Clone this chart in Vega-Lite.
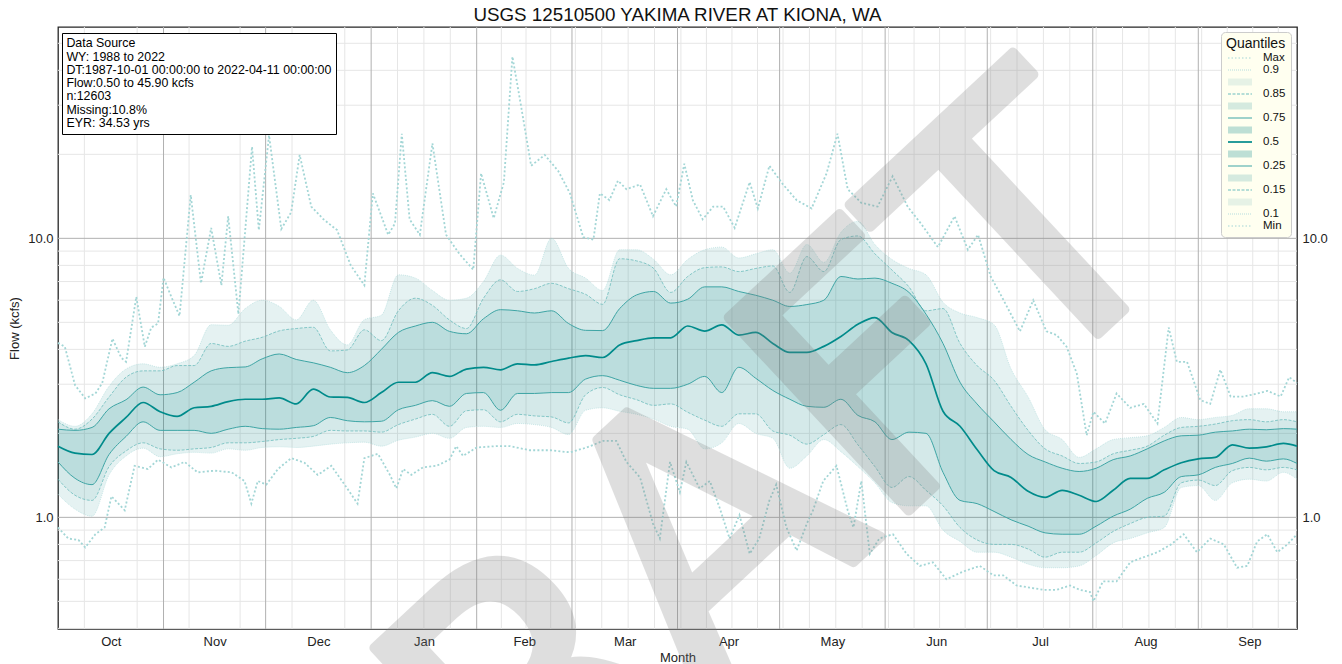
{
  "$schema": "https://vega.github.io/schema/vega-lite/v6.json",
  "width": 1239,
  "height": 602,
  "autosize": {"type": "none"},
  "padding": {"left": 58, "top": 27, "right": 45, "bottom": 35},
  "background": "white",
  "config": {
    "font": "Liberation Sans",
    "view": {"stroke": "#262626", "strokeWidth": 1.3},
    "axis": {"labelFont": "Liberation Sans", "titleFont": "Liberation Sans"}
  },
  "title": {"text": "USGS 12510500 YAKIMA RIVER AT KIONA, WA", "fontSize": 18.8, "font": "Liberation Sans", "fontWeight": "normal", "color": "#111111", "anchor": "middle", "offset": 6, "dy": 4},
  "datasets": {
    "hmin": [{"v":0.4},{"v":0.5},{"v":0.6},{"v":0.7},{"v":0.8},{"v":0.9},{"v":2},{"v":3},{"v":4},{"v":5},{"v":6},{"v":7},{"v":8},{"v":9},{"v":20},{"v":30},{"v":40},{"v":50}],
    "hmaj": [{"v":1},{"v":10}],
    "vmin": [{"d":7.75},{"d":23.25},{"d":38.5},{"d":53.5},{"d":68.75},{"d":84.25},{"d":99.75},{"d":107.5},{"d":115.25},{"d":130.25},{"d":137.5},{"d":144.75},{"d":152},{"d":159.75},{"d":167.5},{"d":175.25},{"d":183},{"d":190.5},{"d":198},{"d":205.5},{"d":213},{"d":220.75},{"d":228.5},{"d":236.25},{"d":244},{"d":251.5},{"d":259},{"d":266.5},{"d":274},{"d":281.75},{"d":289.5},{"d":297.25},{"d":305},{"d":312.75},{"d":320.5},{"d":328.25},{"d":336},{"d":343.5},{"d":351},{"d":358.5}],
    "vmaj": [{"d":31},{"d":61},{"d":92},{"d":123},{"d":151},{"d":182},{"d":212},{"d":243},{"d":273},{"d":304},{"d":335}],
    "q": [
      {"d":0,"q10":1.21,"q15":1.37,"q25":1.58,"q50":1.80,"q75":2.07,"q85":2.20,"q90":2.24},
      {"d":5,"q10":1.07,"q15":1.20,"q25":1.38,"q50":1.70,"q75":2.05,"q85":2.07,"q90":2.12},
      {"d":10,"q10":1.01,"q15":1.15,"q25":1.31,"q50":1.68,"q75":2.10,"q85":2.25,"q90":2.35},
      {"d":15,"q10":1.42,"q15":1.52,"q25":1.68,"q50":2.00,"q75":2.45,"q85":2.70,"q90":2.95},
      {"d":20,"q10":1.66,"q15":1.73,"q25":1.95,"q50":2.28,"q75":2.64,"q85":3.18,"q90":3.40},
      {"d":25,"q10":1.77,"q15":1.85,"q25":2.20,"q50":2.58,"q75":2.93,"q85":3.35,"q90":3.55},
      {"d":30,"q10":1.65,"q15":1.76,"q25":2.05,"q50":2.39,"q75":2.75,"q85":3.35,"q90":3.45},
      {"d":35,"q10":1.69,"q15":1.74,"q25":2.05,"q50":2.30,"q75":2.80,"q85":3.50,"q90":3.55},
      {"d":40,"q10":1.71,"q15":1.76,"q25":2.05,"q50":2.47,"q75":3.05,"q85":3.50,"q90":3.80},
      {"d":45,"q10":1.70,"q15":1.78,"q25":2.00,"q50":2.50,"q75":3.35,"q85":4.20,"q90":4.90},
      {"d":50,"q10":1.76,"q15":1.85,"q25":2.07,"q50":2.60,"q75":3.44,"q85":4.10,"q90":4.88},
      {"d":55,"q10":1.74,"q15":1.85,"q25":2.12,"q50":2.65,"q75":3.46,"q85":4.28,"q90":5.60},
      {"d":60,"q10":1.78,"q15":1.87,"q25":2.08,"q50":2.65,"q75":3.70,"q85":4.42,"q90":6.00},
      {"d":65,"q10":1.79,"q15":1.90,"q25":2.07,"q50":2.68,"q75":3.85,"q85":4.66,"q90":5.70},
      {"d":70,"q10":1.78,"q15":1.92,"q25":2.10,"q50":2.55,"q75":3.68,"q85":4.75,"q90":5.10},
      {"d":75,"q10":1.80,"q15":1.95,"q25":2.13,"q50":2.88,"q75":3.58,"q85":4.80,"q90":6.00},
      {"d":80,"q10":1.83,"q15":2.05,"q25":2.28,"q50":2.70,"q75":3.45,"q85":3.95,"q90":4.70},
      {"d":85,"q10":1.85,"q15":2.04,"q25":2.22,"q50":2.69,"q75":3.30,"q85":3.98,"q90":4.15},
      {"d":90,"q10":1.86,"q15":2.04,"q25":2.20,"q50":2.58,"q75":3.50,"q85":4.70,"q90":5.11},
      {"d":95,"q10":1.80,"q15":2.02,"q25":2.21,"q50":2.80,"q75":4.00,"q85":4.30,"q90":5.30},
      {"d":100,"q10":1.89,"q15":2.15,"q25":2.43,"q50":3.05,"q75":4.60,"q85":5.50,"q90":7.40},
      {"d":105,"q10":1.94,"q15":2.25,"q25":2.52,"q50":3.05,"q75":4.85,"q85":6.10,"q90":7.20},
      {"d":110,"q10":2.00,"q15":2.34,"q25":2.62,"q50":3.30,"q75":5.00,"q85":5.75,"q90":6.50},
      {"d":115,"q10":1.92,"q15":2.12,"q25":2.50,"q50":3.20,"q75":4.64,"q85":5.10,"q90":6.00},
      {"d":120,"q10":2.10,"q15":2.41,"q25":2.78,"q50":3.40,"q75":4.55,"q85":4.75,"q90":6.10},
      {"d":125,"q10":2.12,"q15":2.43,"q25":2.80,"q50":3.45,"q75":5.15,"q85":6.10,"q90":7.00},
      {"d":130,"q10":2.10,"q15":2.20,"q25":2.42,"q50":3.38,"q75":5.55,"q85":7.10,"q90":8.70},
      {"d":135,"q10":2.17,"q15":2.34,"q25":2.78,"q50":3.55,"q75":5.50,"q85":6.45,"q90":7.80},
      {"d":140,"q10":2.15,"q15":2.31,"q25":2.78,"q50":3.52,"q75":5.40,"q85":6.60,"q90":7.38},
      {"d":145,"q10":2.10,"q15":2.29,"q25":2.80,"q50":3.62,"q75":5.50,"q85":6.90,"q90":10.0},
      {"d":150,"q10":1.98,"q15":2.18,"q25":2.80,"q50":3.72,"q75":4.95,"q85":6.60,"q90":7.80},
      {"d":155,"q10":2.42,"q15":2.75,"q25":3.13,"q50":3.80,"q75":4.68,"q85":6.30,"q90":7.20},
      {"d":160,"q10":2.47,"q15":2.92,"q25":3.22,"q50":3.74,"q75":4.67,"q85":5.80,"q90":6.50},
      {"d":165,"q10":2.40,"q15":2.75,"q25":3.10,"q50":4.15,"q75":5.60,"q85":8.45,"q90":9.10},
      {"d":170,"q10":2.34,"q15":2.64,"q25":2.97,"q50":4.30,"q75":6.27,"q85":8.30,"q90":9.10},
      {"d":175,"q10":2.25,"q15":2.52,"q25":2.90,"q50":4.40,"q75":6.45,"q85":7.80,"q90":8.40},
      {"d":180,"q10":2.12,"q15":2.55,"q25":2.90,"q50":4.40,"q75":5.86,"q85":6.40,"q90":7.40},
      {"d":185,"q10":2.07,"q15":2.38,"q25":3.00,"q50":4.85,"q75":6.05,"q85":7.30,"q90":8.40},
      {"d":190,"q10":1.76,"q15":2.23,"q25":3.20,"q50":4.65,"q75":6.70,"q85":7.85,"q90":9.10},
      {"d":195,"q10":1.85,"q15":2.12,"q25":2.80,"q50":4.90,"q75":6.70,"q85":7.90,"q90":9.30},
      {"d":200,"q10":2.17,"q15":2.35,"q25":3.45,"q50":4.50,"q75":6.45,"q85":7.60,"q90":8.50},
      {"d":205,"q10":2.00,"q15":2.35,"q25":3.15,"q50":4.60,"q75":6.25,"q85":7.80,"q90":8.80},
      {"d":210,"q10":1.92,"q15":2.04,"q25":2.85,"q50":4.20,"q75":6.00,"q85":7.96,"q90":9.10},
      {"d":215,"q10":1.50,"q15":1.97,"q25":2.65,"q50":3.90,"q75":5.70,"q85":6.40,"q90":7.50},
      {"d":220,"q10":1.66,"q15":1.83,"q25":2.50,"q50":3.90,"q75":5.79,"q85":8.60,"q90":9.50},
      {"d":225,"q10":1.90,"q15":1.98,"q25":2.48,"q50":4.10,"q75":6.00,"q85":7.60,"q90":8.20},
      {"d":230,"q10":1.72,"q15":2.15,"q25":2.65,"q50":4.45,"q75":7.30,"q85":9.90,"q90":10.5},
      {"d":235,"q10":1.52,"q15":1.82,"q25":2.32,"q50":4.92,"q75":7.15,"q85":10.2,"q90":11.5},
      {"d":240,"q10":1.33,"q15":1.52,"q25":2.20,"q50":5.20,"q75":7.20,"q85":8.80,"q90":9.50},
      {"d":245,"q10":1.13,"q15":1.28,"q25":1.90,"q50":4.60,"q75":6.90,"q85":7.70,"q90":8.40},
      {"d":250,"q10":1.10,"q15":1.40,"q25":2.02,"q50":4.30,"q75":6.40,"q85":6.70,"q90":7.80},
      {"d":255,"q10":1.10,"q15":1.25,"q25":2.00,"q50":3.55,"q75":5.35,"q85":5.50,"q90":7.40},
      {"d":260,"q10":0.90,"q15":1.10,"q25":1.45,"q50":2.40,"q75":4.20,"q85":5.60,"q90":5.90},
      {"d":265,"q10":0.82,"q15":0.92,"q25":1.15,"q50":2.12,"q75":3.05,"q85":4.20,"q90":5.40},
      {"d":270,"q10":0.75,"q15":0.83,"q25":1.12,"q50":1.75,"q75":2.55,"q85":3.50,"q90":5.20},
      {"d":275,"q10":0.75,"q15":0.80,"q25":1.05,"q50":1.47,"q75":2.20,"q85":3.10,"q90":4.90},
      {"d":280,"q10":0.72,"q15":0.80,"q25":0.98,"q50":1.39,"q75":1.90,"q85":2.50,"q90":3.40},
      {"d":285,"q10":0.68,"q15":0.77,"q25":0.93,"q50":1.24,"q75":1.68,"q85":2.05,"q90":2.70},
      {"d":290,"q10":0.66,"q15":0.72,"q25":0.88,"q50":1.18,"q75":1.58,"q85":1.76,"q90":2.06},
      {"d":295,"q10":0.66,"q15":0.75,"q25":0.87,"q50":1.25,"q75":1.50,"q85":1.66,"q90":1.90},
      {"d":300,"q10":0.67,"q15":0.75,"q25":0.87,"q50":1.20,"q75":1.46,"q85":1.56,"q90":1.64},
      {"d":305,"q10":0.73,"q15":0.81,"q25":0.93,"q50":1.14,"q75":1.50,"q85":1.58,"q90":1.76},
      {"d":310,"q10":0.81,"q15":0.89,"q25":1.01,"q50":1.25,"q75":1.61,"q85":1.69,"q90":1.90},
      {"d":315,"q10":0.84,"q15":0.95,"q25":1.07,"q50":1.38,"q75":1.66,"q85":1.74,"q90":1.93},
      {"d":320,"q10":0.88,"q15":1.00,"q25":1.17,"q50":1.38,"q75":1.76,"q85":1.80,"q90":1.96},
      {"d":325,"q10":0.92,"q15":1.01,"q25":1.23,"q50":1.48,"q75":1.88,"q85":1.97,"q90":2.10},
      {"d":330,"q10":1.28,"q15":1.33,"q25":1.40,"q50":1.57,"q75":1.96,"q85":2.10,"q90":2.28},
      {"d":335,"q10":1.30,"q15":1.36,"q25":1.42,"q50":1.62,"q75":1.97,"q85":2.12,"q90":2.24},
      {"d":340,"q10":1.15,"q15":1.30,"q25":1.51,"q50":1.64,"q75":2.02,"q85":2.16,"q90":2.28},
      {"d":345,"q10":1.33,"q15":1.47,"q25":1.56,"q50":1.82,"q75":2.04,"q85":2.22,"q90":2.32},
      {"d":350,"q10":1.37,"q15":1.51,"q25":1.63,"q50":1.77,"q75":2.07,"q85":2.24,"q90":2.45},
      {"d":355,"q10":1.35,"q15":1.48,"q25":1.59,"q50":1.79,"q75":2.06,"q85":2.20,"q90":2.45},
      {"d":360,"q10":1.45,"q15":1.51,"q25":1.62,"q50":1.84,"q75":2.08,"q85":2.24,"q90":2.39},
      {"d":364,"q10":1.37,"q15":1.48,"q25":1.56,"q50":1.80,"q75":2.07,"q85":2.20,"q90":2.39}
    ],
    "mx": [
      {"d":0,"v":4.22},{"d":2,"v":4.09},{"d":5,"v":2.98},{"d":8,"v":2.67},{"d":11,"v":2.78},{"d":13,"v":3.03},{"d":16,"v":4.37},{"d":18.6,"v":3.73},{"d":20,"v":3.61},{"d":23,"v":6.17},{"d":25.5,"v":4.09},{"d":27.4,"v":4.79},{"d":29.4,"v":4.95},{"d":31,"v":7.23},{"d":33.3,"v":6.17},{"d":35.7,"v":5.27},{"d":39,"v":14.3},{"d":42,"v":6.9},{"d":45,"v":10.9},{"d":48,"v":6.79},{"d":50,"v":12.0},{"d":53,"v":5.35},{"d":57,"v":21.3},{"d":59,"v":10.7},{"d":62,"v":23.4},{"d":65.6,"v":10.8},{"d":68.5,"v":12.4},{"d":71,"v":19.9},{"d":74.4,"v":13.0},{"d":78,"v":11.7},{"d":82,"v":10.7},{"d":86,"v":8.0},{"d":90,"v":6.79},{"d":92.5,"v":14.5},{"d":95,"v":12.0},{"d":97,"v":10.3},{"d":99,"v":11.3},{"d":101,"v":23.7},{"d":103.3,"v":11.7},{"d":106.3,"v":10.3},{"d":110,"v":21.9},{"d":114,"v":10.3},{"d":118,"v":8.77},{"d":122,"v":7.72},{"d":124.3,"v":17.1},{"d":128,"v":11.8},{"d":131,"v":15.9},{"d":133.5,"v":44.8},{"d":136,"v":30.0},{"d":139,"v":18.2},{"d":143,"v":19.9},{"d":147,"v":17.4},{"d":150.4,"v":14.5},{"d":154.3,"v":10.1},{"d":157.3,"v":9.9},{"d":159.2,"v":14.5},{"d":162,"v":13.7},{"d":164.5,"v":16.1},{"d":167,"v":15.0},{"d":171,"v":15.6},{"d":174.8,"v":12.0},{"d":178.7,"v":15.0},{"d":181.6,"v":13.0},{"d":184,"v":18.5},{"d":186.5,"v":13.7},{"d":189.4,"v":11.7},{"d":192.5,"v":13.0},{"d":195.4,"v":13.0},{"d":198.8,"v":10.9},{"d":203.2,"v":15.9},{"d":205.6,"v":12.8},{"d":209,"v":18.2},{"d":213,"v":15.6},{"d":217,"v":13.7},{"d":221.4,"v":12.8},{"d":225.8,"v":17.1},{"d":229,"v":23.7},{"d":232,"v":15.0},{"d":236,"v":13.4},{"d":240.8,"v":13.0},{"d":245.2,"v":16.7},{"d":249.6,"v":13.0},{"d":253.5,"v":11.3},{"d":258.5,"v":9.3},{"d":263.4,"v":12.0},{"d":267.3,"v":9.1},{"d":270.3,"v":10.3},{"d":274,"v":7.3},{"d":277.5,"v":6.1},{"d":282.6,"v":4.64},{"d":286.5,"v":6.0},{"d":290.4,"v":4.64},{"d":293.4,"v":4.5},{"d":296.3,"v":4.09},{"d":299.3,"v":3.28},{"d":302.2,"v":1.97},{"d":304.2,"v":2.39},{"d":307.6,"v":2.17},{"d":311,"v":2.78},{"d":315,"v":2.47},{"d":319,"v":2.55},{"d":323,"v":2.17},{"d":326.3,"v":4.79},{"d":328.7,"v":3.61},{"d":331.7,"v":3.61},{"d":335.6,"v":2.63},{"d":338.5,"v":2.55},{"d":341.5,"v":3.38},{"d":344.5,"v":2.71},{"d":348.4,"v":2.71},{"d":352.3,"v":2.78},{"d":355.3,"v":2.84},{"d":359.2,"v":2.71},{"d":361.7,"v":3.18},{"d":364,"v":3.03}
    ],
    "mn": [
      {"d":0,"v":0.92},{"d":3,"v":0.84},{"d":6,"v":0.83},{"d":8,"v":0.78},{"d":11,"v":0.87},{"d":13.7,"v":0.92},{"d":15.7,"v":1.19},{"d":19.6,"v":1.06},{"d":22.5,"v":1.53},{"d":26.4,"v":1.49},{"d":29.4,"v":1.61},{"d":33.3,"v":1.51},{"d":37.2,"v":1.58},{"d":41,"v":1.45},{"d":46,"v":1.47},{"d":51,"v":1.45},{"d":54.8,"v":1.35},{"d":56.8,"v":1.12},{"d":58.7,"v":1.35},{"d":61.2,"v":1.31},{"d":64.6,"v":1.49},{"d":68.5,"v":1.63},{"d":72.4,"v":1.57},{"d":76.3,"v":1.42},{"d":80.3,"v":1.53},{"d":84.2,"v":1.31},{"d":88,"v":1.12},{"d":90,"v":1.63},{"d":94,"v":1.69},{"d":97.5,"v":1.42},{"d":99.4,"v":1.27},{"d":101.4,"v":1.49},{"d":103.8,"v":1.42},{"d":107.2,"v":1.51},{"d":111.2,"v":1.53},{"d":115,"v":1.61},{"d":117,"v":1.80},{"d":119,"v":1.66},{"d":123,"v":1.78},{"d":128.8,"v":1.80},{"d":132.8,"v":1.80},{"d":138.6,"v":1.74},{"d":144.5,"v":1.74},{"d":150.4,"v":1.71},{"d":155.3,"v":1.78},{"d":160.2,"v":1.88},{"d":164,"v":1.88},{"d":167,"v":1.58},{"d":171,"v":1.39},{"d":174.8,"v":0.95},{"d":176.8,"v":0.84},{"d":179.8,"v":1.58},{"d":182.7,"v":1.23},{"d":184.6,"v":1.58},{"d":188.5,"v":1.27},{"d":191.5,"v":1.35},{"d":194.4,"v":1.08},{"d":197.3,"v":0.84},{"d":200.2,"v":1.02},{"d":203.2,"v":0.74},{"d":206,"v":0.84},{"d":209,"v":1.15},{"d":211,"v":1.31},{"d":214,"v":0.92},{"d":217,"v":0.76},{"d":220,"v":0.95},{"d":221.8,"v":1.06},{"d":224.8,"v":1.35},{"d":228.7,"v":1.53},{"d":232,"v":1.06},{"d":233.7,"v":0.92},{"d":236,"v":1.35},{"d":238.5,"v":0.74},{"d":241.3,"v":0.84},{"d":245.3,"v":0.87},{"d":249.3,"v":0.74},{"d":253.2,"v":0.67},{"d":257,"v":0.69},{"d":261,"v":0.60},{"d":266,"v":0.64},{"d":270.8,"v":0.67},{"d":274.8,"v":0.62},{"d":277.7,"v":0.62},{"d":281.6,"v":0.57},{"d":285.5,"v":0.56},{"d":289.5,"v":0.55},{"d":293.4,"v":0.55},{"d":297.3,"v":0.57},{"d":300.2,"v":0.55},{"d":303.2,"v":0.54},{"d":304.2,"v":0.50},{"d":307,"v":0.59},{"d":311,"v":0.59},{"d":315,"v":0.69},{"d":319,"v":0.72},{"d":323,"v":0.75},{"d":327,"v":0.80},{"d":330.7,"v":0.87},{"d":334.6,"v":0.75},{"d":338.5,"v":0.84},{"d":342.5,"v":0.80},{"d":346.4,"v":0.66},{"d":349.4,"v":0.67},{"d":352.3,"v":0.82},{"d":355.3,"v":0.87},{"d":358.2,"v":0.75},{"d":361.2,"v":0.80},{"d":364,"v":0.87}
    ]
  },
  "layer": [
    {
      "data": {"name": "hmin"},
      "mark": {"type": "rule", "stroke": "#e6e6e6", "strokeWidth": 1},
      "encoding": {"y": {"field": "v", "type": "quantitative", "scale": {"type": "log", "domain": [0.398, 57.2], "nice": false}, "axis": null}}
    },
    {
      "data": {"name": "vmin"},
      "mark": {"type": "rule", "stroke": "#e6e6e6", "strokeWidth": 1},
      "encoding": {"x": {"field": "d", "type": "quantitative", "scale": {"domain": [0, 364], "nice": false, "zero": false},
        "axis": {"title": "Month", "values": [15.5, 46, 76.5, 107.5, 137, 166.5, 197, 227.5, 258, 288.5, 319.5, 350], "labelExpr": "['Oct','Nov','Dec','Jan','Feb','Mar','Apr','May','Jun','Jul','Aug','Sep'][floor(datum.value/30.5)]", "grid": false, "ticks": false, "domain": false, "labelFlush": false, "labelOverlap": false, "labelFontSize": 13, "labelPadding": 6, "labelColor": "#222222", "titleFontSize": 13, "titleFontWeight": "normal", "titleColor": "#222222", "titlePadding": 3}}}
    },
    {
      "data": {"name": "hmaj"},
      "mark": {"type": "rule", "stroke": "#b0b0b0", "strokeWidth": 1},
      "encoding": {"y": {"field": "v", "type": "quantitative", "scale": {"type": "log", "domain": [0.398, 57.2], "nice": false}, "axis": null}}
    },
    {
      "data": {"name": "vmaj"},
      "mark": {"type": "rule", "stroke": "#b0b0b0", "strokeWidth": 1},
      "encoding": {"x": {"field": "d", "type": "quantitative", "scale": {"domain": [0, 364], "nice": false, "zero": false}}}
    },
    {
      "data": {"name": "q"},
      "mark": {"type": "area", "color": "#008080", "opacity": 0.1, "interpolate": "monotone"},
      "encoding": {
        "x": {"field": "d", "type": "quantitative", "scale": {"domain": [0, 364], "nice": false, "zero": false}},
        "y": {"field": "q10", "type": "quantitative", "scale": {"type": "log", "domain": [0.398, 57.2], "nice": false},
          "axis": {"title": "Flow (kcfs)", "orient": "left", "values": [1, 10], "format": ".1f", "grid": false, "ticks": false, "domain": false, "labelFontSize": 13, "labelPadding": 5, "labelColor": "#222222", "titleFontSize": 13, "titleFontWeight": "normal", "titleColor": "#222222", "titlePadding": 6}},
        "y2": {"field": "q90"}
      }
    },
    {
      "data": {"name": "q"},
      "mark": {"type": "area", "color": "#008080", "opacity": 0.07, "interpolate": "monotone"},
      "encoding": {
        "x": {"field": "d", "type": "quantitative", "scale": {"domain": [0, 364], "nice": false, "zero": false}},
        "y": {"field": "q15", "type": "quantitative", "scale": {"type": "log", "domain": [0.398, 57.2], "nice": false}, "axis": null},
        "y2": {"field": "q85"}
      }
    },
    {
      "data": {"name": "q"},
      "mark": {"type": "area", "color": "#008080", "opacity": 0.115, "interpolate": "monotone"},
      "encoding": {
        "x": {"field": "d", "type": "quantitative", "scale": {"domain": [0, 364], "nice": false, "zero": false}},
        "y": {"field": "q25", "type": "quantitative", "scale": {"type": "log", "domain": [0.398, 57.2], "nice": false}, "axis": null},
        "y2": {"field": "q75"}
      }
    },
    {
      "data": {"name": "q"},
      "mark": {"type": "line", "stroke": "#b5dede", "strokeWidth": 0.7, "strokeDash": [1, 1], "interpolate": "monotone"},
      "encoding": {
        "x": {"field": "d", "type": "quantitative", "scale": {"domain": [0, 364], "nice": false, "zero": false}},
        "y": {"field": "q10", "type": "quantitative", "scale": {"type": "log", "domain": [0.398, 57.2], "nice": false}, "axis": null}
      }
    },
    {
      "data": {"name": "q"},
      "mark": {"type": "line", "stroke": "#b5dede", "strokeWidth": 0.7, "strokeDash": [1, 1], "interpolate": "monotone"},
      "encoding": {
        "x": {"field": "d", "type": "quantitative", "scale": {"domain": [0, 364], "nice": false, "zero": false}},
        "y": {"field": "q90", "type": "quantitative", "scale": {"type": "log", "domain": [0.398, 57.2], "nice": false}, "axis": null}
      }
    },
    {
      "data": {"name": "q"},
      "mark": {"type": "line", "stroke": "#6dbdbd", "strokeWidth": 0.8, "strokeDash": [3, 1.5], "interpolate": "monotone"},
      "encoding": {
        "x": {"field": "d", "type": "quantitative", "scale": {"domain": [0, 364], "nice": false, "zero": false}},
        "y": {"field": "q15", "type": "quantitative", "scale": {"type": "log", "domain": [0.398, 57.2], "nice": false}, "axis": null}
      }
    },
    {
      "data": {"name": "q"},
      "mark": {"type": "line", "stroke": "#6dbdbd", "strokeWidth": 0.8, "strokeDash": [3, 1.5], "interpolate": "monotone"},
      "encoding": {
        "x": {"field": "d", "type": "quantitative", "scale": {"domain": [0, 364], "nice": false, "zero": false}},
        "y": {"field": "q85", "type": "quantitative", "scale": {"type": "log", "domain": [0.398, 57.2], "nice": false}, "axis": null}
      }
    },
    {
      "data": {"name": "q"},
      "mark": {"type": "line", "stroke": "#3ea5a5", "strokeWidth": 1, "interpolate": "monotone"},
      "encoding": {
        "x": {"field": "d", "type": "quantitative", "scale": {"domain": [0, 364], "nice": false, "zero": false}},
        "y": {"field": "q25", "type": "quantitative", "scale": {"type": "log", "domain": [0.398, 57.2], "nice": false}, "axis": null}
      }
    },
    {
      "data": {"name": "q"},
      "mark": {"type": "line", "stroke": "#3ea5a5", "strokeWidth": 1, "interpolate": "monotone"},
      "encoding": {
        "x": {"field": "d", "type": "quantitative", "scale": {"domain": [0, 364], "nice": false, "zero": false}},
        "y": {"field": "q75", "type": "quantitative", "scale": {"type": "log", "domain": [0.398, 57.2], "nice": false}, "axis": null}
      }
    },
    {
      "data": {"name": "mx"},
      "mark": {"type": "line", "stroke": "#a3d6d6", "strokeWidth": 1.8, "strokeDash": [2, 2.2]},
      "encoding": {
        "x": {"field": "d", "type": "quantitative", "scale": {"domain": [0, 364], "nice": false, "zero": false}},
        "y": {"field": "v", "type": "quantitative", "scale": {"type": "log", "domain": [0.398, 57.2], "nice": false}, "axis": null}
      }
    },
    {
      "data": {"name": "mn"},
      "mark": {"type": "line", "stroke": "#a3d6d6", "strokeWidth": 1.8, "strokeDash": [2, 2.2]},
      "encoding": {
        "x": {"field": "d", "type": "quantitative", "scale": {"domain": [0, 364], "nice": false, "zero": false}},
        "y": {"field": "v", "type": "quantitative", "scale": {"type": "log", "domain": [0.398, 57.2], "nice": false}, "axis": null}
      }
    },
    {
      "data": {"name": "q"},
      "mark": {"type": "line", "stroke": "#008b8b", "strokeWidth": 1.7, "interpolate": "monotone"},
      "encoding": {
        "x": {"field": "d", "type": "quantitative", "scale": {"domain": [0, 364], "nice": false, "zero": false}},
        "y": {"field": "q50", "type": "quantitative", "scale": {"type": "log", "domain": [0.398, 57.2], "nice": false}, "axis": null}
      }
    },
    {
      "data": {"values": [{"d": 183.9, "v": 0.642, "t": "DRAFT"}]},
      "mark": {"type": "text", "font": "DejaVu Sans", "fontSize": 362, "angle": 317, "align": "center", "baseline": "middle", "fill": "#808080", "opacity": 0.25, "stroke": "#808080", "strokeWidth": 10, "strokeJoin": "round"},
      "encoding": {
        "x": {"field": "d", "type": "quantitative", "scale": {"domain": [0, 364], "nice": false, "zero": false}},
        "y": {"field": "v", "type": "quantitative", "scale": {"type": "log", "domain": [0.398, 57.2], "nice": false}, "axis": null},
        "text": {"field": "t"}
      }
    },
    {
      "data": {"values": [{"k":"Max"},{"k":"0.9"},{"k":"band3"},{"k":"0.85"},{"k":"band2"},{"k":"0.75"},{"k":"band1"},{"k":"0.5"},{"k":"band1b"},{"k":"0.25"},{"k":"band2b"},{"k":"0.15"},{"k":"band3b"},{"k":"0.1"},{"k":"Min"}]},
      "mark": {"type": "point", "clip": true, "opacity": 1, "filled": false},
      "encoding": {
        "x": {"datum": -50, "type": "quantitative", "scale": {"domain": [0, 364], "nice": false, "zero": false}},
        "y": {"datum": 1, "type": "quantitative", "scale": {"type": "log", "domain": [0.398, 57.2], "nice": false}, "axis": null},
        "fill": {"field": "k", "type": "nominal",
          "scale": {"domain": ["Max","0.9","band3","0.85","band2","0.75","band1","0.5","band1b","0.25","band2b","0.15","band3b","0.1","Min"],
            "range": ["transparent","transparent","#e6f2e6","transparent","#d5eadf","transparent","#bddfd5","#008b8b","#bddfd5","transparent","#d5eadf","transparent","#e6f2e6","transparent","transparent"]},
          "legend": {"title": "Quantiles", "orient": "none", "legendX": 1163, "legendY": 5, "padding": 5, "titleFont": "Liberation Sans", "titleFontSize": 14, "titleFontWeight": "normal", "titleColor": "#111111", "titlePadding": 1, "labelFont": "Liberation Sans", "labelFontSize": 11.5, "labelColor": "#111111", "symbolSize": 100, "symbolStrokeWidth": 1.2, "symbolOffset": 8, "labelOffset": 17, "rowPadding": -0.3, "fillColor": "#fffff0", "strokeColor": "#cccccc", "cornerRadius": 4, "symbolOpacity": 1, "labelExpr": "indexof(datum.label,'band')>=0?'':datum.label"}},
        "stroke": {"field": "k", "type": "nominal",
          "scale": {"domain": ["Max","0.9","band3","0.85","band2","0.75","band1","0.5","band1b","0.25","band2b","0.15","band3b","0.1","Min"],
            "range": ["#a3d6d6","#b5dede","transparent","#6dbdbd","transparent","#3ea5a5","transparent","transparent","transparent","#3ea5a5","transparent","#6dbdbd","transparent","#b5dede","#a3d6d6"]},
          "legend": {"title": "Quantiles", "orient": "none", "legendX": 1163, "legendY": 5, "padding": 5, "titleFont": "Liberation Sans", "titleFontSize": 14, "titleFontWeight": "normal", "titleColor": "#111111", "titlePadding": 1, "labelFont": "Liberation Sans", "labelFontSize": 11.5, "labelColor": "#111111", "symbolSize": 100, "symbolStrokeWidth": 1.2, "symbolOffset": 8, "labelOffset": 17, "rowPadding": -0.3, "fillColor": "#fffff0", "strokeColor": "#cccccc", "cornerRadius": 4, "symbolOpacity": 1, "labelExpr": "indexof(datum.label,'band')>=0?'':datum.label"}},
        "shape": {"field": "k", "type": "nominal",
          "scale": {"domain": ["Max","0.9","band3","0.85","band2","0.75","band1","0.5","band1b","0.25","band2b","0.15","band3b","0.1","Min"],
            "range": ["M-2.4,0H2.4","M-2.4,0H2.4","M-2.4,-0.7H2.4V0.7H-2.4Z","M-2.4,0H2.4","M-2.4,-0.7H2.4V0.7H-2.4Z","M-2.4,0H2.4","M-2.4,-0.7H2.4V0.7H-2.4Z","M-2.4,-0.17H2.4V0.17H-2.4Z","M-2.4,-0.7H2.4V0.7H-2.4Z","M-2.4,0H2.4","M-2.4,-0.7H2.4V0.7H-2.4Z","M-2.4,0H2.4","M-2.4,-0.7H2.4V0.7H-2.4Z","M-2.4,0H2.4","M-2.4,0H2.4"]},
          "legend": {"title": "Quantiles", "orient": "none", "legendX": 1163, "legendY": 5, "padding": 5, "titleFont": "Liberation Sans", "titleFontSize": 14, "titleFontWeight": "normal", "titleColor": "#111111", "titlePadding": 1, "labelFont": "Liberation Sans", "labelFontSize": 11.5, "labelColor": "#111111", "symbolSize": 100, "symbolStrokeWidth": 1.2, "symbolOffset": 8, "labelOffset": 17, "rowPadding": -0.3, "fillColor": "#fffff0", "strokeColor": "#cccccc", "cornerRadius": 4, "symbolOpacity": 1, "labelExpr": "indexof(datum.label,'band')>=0?'':datum.label"}},
        "strokeDash": {"field": "k", "type": "nominal",
          "scale": {"domain": ["Max","0.9","band3","0.85","band2","0.75","band1","0.5","band1b","0.25","band2b","0.15","band3b","0.1","Min"],
            "range": [[1.5,2],[1,1],[1,0],[3,1.5],[1,0],[1,0],[1,0],[1,0],[1,0],[1,0],[1,0],[3,1.5],[1,0],[1,1],[1.5,2]]},
          "legend": {"title": "Quantiles", "orient": "none", "legendX": 1163, "legendY": 5, "padding": 5, "titleFont": "Liberation Sans", "titleFontSize": 14, "titleFontWeight": "normal", "titleColor": "#111111", "titlePadding": 1, "labelFont": "Liberation Sans", "labelFontSize": 11.5, "labelColor": "#111111", "symbolSize": 100, "symbolStrokeWidth": 1.2, "symbolOffset": 8, "labelOffset": 17, "rowPadding": -0.3, "fillColor": "#fffff0", "strokeColor": "#cccccc", "cornerRadius": 4, "symbolOpacity": 1, "labelExpr": "indexof(datum.label,'band')>=0?'':datum.label"}}
      }
    },
    {
      "data": {"values": [{"info":"Data Source"},{"info":"WY: 1988 to 2022"},{"info":"DT:1987-10-01 00:00:00 to 2022-04-11 00:00:00"},{"info":"Flow:0.50 to 45.90 kcfs"},{"info":"n:12603"},{"info":"Missing:10.8%"},{"info":"EYR: 34.53 yrs"}]},
      "mark": {"type": "point", "clip": true},
      "encoding": {
        "x": {"datum": -50, "type": "quantitative", "scale": {"domain": [0, 364], "nice": false, "zero": false}},
        "y": {"datum": 1, "type": "quantitative", "scale": {"type": "log", "domain": [0.398, 57.2], "nice": false}, "axis": null},
        "opacity": {"field": "info", "type": "nominal",
          "scale": {"domain": ["Data Source","WY: 1988 to 2022","DT:1987-10-01 00:00:00 to 2022-04-11 00:00:00","Flow:0.50 to 45.90 kcfs","n:12603","Missing:10.8%","EYR: 34.53 yrs"]},
          "legend": {"title": null, "orient": "none", "legendX": 4, "legendY": 6, "padding": 4, "labelFont": "Liberation Sans", "labelFontSize": 12.4, "labelColor": "#000000", "labelLimit": 400, "symbolSize": 0, "symbolStrokeWidth": 0, "symbolOpacity": 0, "labelOffset": -12, "rowPadding": 0.3, "fillColor": "#ffffff", "strokeColor": "#000000", "cornerRadius": 0}}
      }
    },
    {
      "data": {"values": [{"z": 1}]},
      "mark": {"type": "point", "clip": true, "opacity": 0},
      "encoding": {
        "x": {"datum": -50, "type": "quantitative", "scale": {"domain": [0, 364], "nice": false, "zero": false}},
        "y": {"datum": 1, "type": "quantitative", "scale": {"type": "log", "domain": [0.398, 57.2], "nice": false},
          "axis": {"orient": "right", "title": null, "values": [1, 10], "format": ".1f", "grid": false, "ticks": false, "domain": false, "labelFontSize": 13, "labelPadding": 5, "labelColor": "#222222"}}
      }
    }
  ],
  "resolve": {"scale": {"y": "independent"}}
}
